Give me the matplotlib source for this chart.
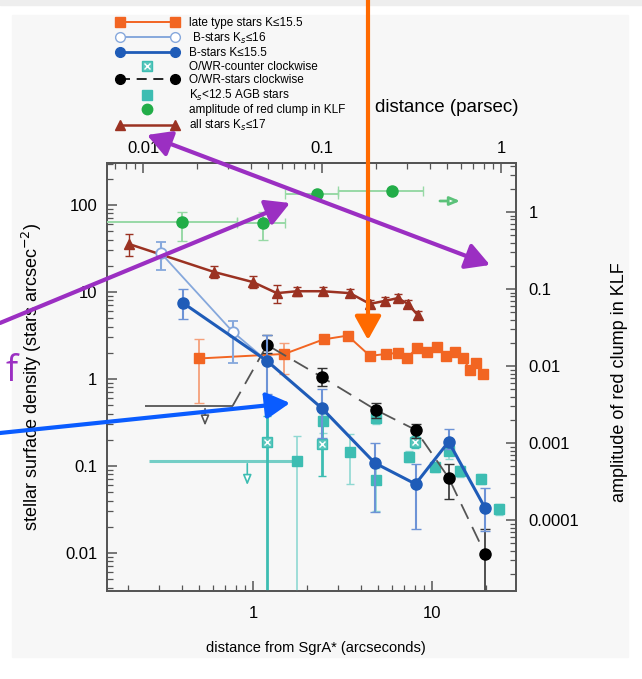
import numpy as np
import matplotlib
matplotlib.use("Agg")
import matplotlib.pyplot as plt
from matplotlib.lines import Line2D
from matplotlib.patches import Rectangle, FancyArrowPatch
from matplotlib.legend_handler import HandlerLine2D
from matplotlib.ticker import FixedLocator, FuncFormatter, LogLocator, NullFormatter

plt.rcParams['font.family'] = ['Liberation Sans', 'DejaVu Sans']

W, H = 642, 679

# late type stars K<=15.5
late_x = [0.50, 1.50, 2.48, 3.38, 4.51, 5.53, 6.46, 7.25, 8.25, 9.38, 10.7, 12.0, 13.4, 14.9, 16.3, 17.6, 19.3]
late_y = [1.72, 1.94, 2.85, 3.15, 1.84, 1.94, 1.99, 1.74, 2.27, 2.04, 2.33, 1.84, 2.04, 1.74, 1.27, 1.53, 1.14]
late_lo = [0.53, 1.14]
late_hi = [2.88, 2.59]

# all stars Ks<=17
all_x = [0.203, 0.605, 1.0, 1.36, 1.76, 2.46, 3.48, 4.5, 5.46, 6.45, 7.34, 8.35]
all_y = [35.6, 17.0, 13.0, 9.7, 10.2, 10.2, 9.7, 7.3, 7.9, 8.5, 7.3, 5.4]
all_lo = [26.0, 14.5, 11.1, 7.5, 9.0, 9.2, 8.8, 6.6, 7.1, 7.7, 6.6, 4.9]
all_hi = [46.5, 19.9, 15.3, 12.0, 11.4, 11.3, 10.7, 8.1, 8.7, 9.4, 8.1, 6.0]

# B-stars Ks<=16
bfaint_x = [0.306, 0.77, 1.2]
bfaint_y = [28.0, 3.5, 1.61]
bfaint_lo = [17.9, 1.53, 1.61]
bfaint_hi = [37.6, 4.64, 1.61]

# B-stars K<=15.5
bbright_x = [0.406, 1.2, 2.43, 4.8, 8.1, 12.4, 19.8]
bbright_y = [7.5, 1.61, 0.46, 0.108, 0.062, 0.19, 0.033]
bbright_lo = [4.9, 0.67, 0.21, 0.0297, 0.0188, 0.157, 0.018]
bbright_hi = [10.8, 3.2, 0.77, 0.184, 0.106, 0.266, 0.056]

# O/WR-stars clockwise
cw_x = [1.2, 2.43, 4.87, 8.1, 12.4, 19.8]
cw_y = [2.46, 1.05, 0.44, 0.26, 0.073, 0.0098]
cw_lo = [1.99, 0.83, 0.356, 0.21, 0.042, 0.001]
cw_hi = [3.2, 1.34, 0.53, 0.30, 0.106, 0.0188]
cw_lim_x, cw_lim_y = 0.54, 0.49
cw_lim_xlo, cw_lim_xhi, cw_lim_arrow = 0.249, 0.77, 0.27

# O/WR counter clockwise
ccw_x = [1.2, 2.43, 8.0]
ccw_y = [0.19, 0.18, 0.19]
ccw_lo = [0.001, 0.077, 0.16]
ccw_hi = [0.376, 0.36, 0.22]

# Ks<12.5 AGB stars
agb_x = [1.76, 2.46, 3.5, 4.9, 4.9, 7.4, 10.4, 12.4, 14.3, 18.8, 23.6]
agb_y = [0.114, 0.33, 0.145, 0.36, 0.069, 0.127, 0.097, 0.149, 0.087, 0.071, 0.032]
agb_lo = [0.001, 0.24, 0.062, 0.30, 0.03, 0.11, 0.085, 0.12, 0.075, 0.062, 0.027]
agb_hi = [0.22, 0.40, 0.23, 0.42, 0.095, 0.15, 0.11, 0.18, 0.10, 0.08, 0.037]
agb_xlo = 0.263
agb_lim_x, agb_lim_y, agb_lim_arrow = 0.93, 0.114, 0.056

# amplitude of red clump in KLF (right axis)
clump_x = [0.40, 1.14, 2.28, 5.98]
clump_y = [0.74, 0.72, 1.71, 1.87]
clump_xlo = [0.10, 0.81, 1.51, 2.98]
clump_xhi = [0.81, 1.51, 2.98, 8.9]
clump_lo = [0.42, 0.43, 1.71, 1.87]
clump_hi = [1.0, 1.0, 1.71, 1.87]
clump_lim_x0, clump_lim_x1, clump_lim_y = 10.7, 14.9, 1.39

pc_per_arcsec = 0.0411


def err(y, lo, hi):
    y = np.asarray(y[:len(lo)])
    return [y - np.asarray(lo), np.asarray(hi) - y]


def px(x, y):
    return (x / W, 1 - y / H)


c_late = '#f26522'
c_late_e = '#f5a07a'
c_all = '#9b3222'
c_bf = '#86a8dc'
c_bb = '#1f5cb8'
c_bb_e = '#6d93d6'
c_teal = '#3dbdb2'
c_green = '#22ad48'
c_green_e = '#98d9a6'

fig = plt.figure(figsize=(W / 100, H / 100), dpi=100)
fig.patches.append(Rectangle(px(12, 657), 616 / W, 642 / H, transform=fig.transFigure,
                             color='#f7f7f7', zorder=-10))
fig.patches.append(Rectangle(px(0, 5), 1, 5 / H, transform=fig.transFigure,
                             color='#eeeeee', zorder=-10))

ax = fig.add_axes([107 / W, 1 - 591 / H, 409 / W, 428 / H])
ax.set_facecolor('none')
ax.set_xscale('log')
ax.set_yscale('log')
ax.set_xlim(0.153, 29.5)
ax.set_ylim(0.00365, 304)

ax2 = ax.twinx()
ax2.set_yscale('log')
ax2.set_ylim(1.2e-5, 4.33)

# teal AGB / counter-clockwise
ax.errorbar(agb_x[0], agb_y[0], xerr=[[agb_x[0] - agb_xlo], [0]], fmt='none', ecolor=c_teal,
            elinewidth=2.2, capsize=0, alpha=0.7, zorder=2)
ax.errorbar(agb_x, agb_y, yerr=err(agb_y, agb_lo, agb_hi), fmt='s', color=c_teal, ms=7,
            ecolor='#8fd8d2', capsize=3, elinewidth=1.2, zorder=3)
ax.annotate('', xy=(agb_lim_x, agb_lim_arrow), xytext=(agb_lim_x, agb_lim_y),
            arrowprops=dict(arrowstyle='-|>,head_length=0.6,head_width=0.25', color=c_teal,
                            fc='white', lw=1.2), zorder=3)
ax.errorbar(ccw_x, ccw_y, yerr=err(ccw_y, ccw_lo, ccw_hi), fmt='s', color=c_teal, ms=7.5,
            mfc='#5cc7bd', ecolor=c_teal, capsize=3, elinewidth=2, zorder=3)
ax.plot(ccw_x, ccw_y, 'x', color='white', ms=4, mew=1, zorder=4)

# late type stars
ax.errorbar(late_x[:2], late_y[:2], yerr=err(late_y, late_lo, late_hi), fmt='none',
            ecolor=c_late_e, capsize=3.5, elinewidth=1.3, zorder=3)
ax.plot(late_x, late_y, '-s', color=c_late, ms=7.5, lw=1.4, zorder=4)

# all stars
ax.errorbar(all_x, all_y, yerr=err(all_y, all_lo, all_hi), fmt='-^', color=c_all, ms=7,
            lw=1.8, ecolor=c_all, capsize=3, elinewidth=1, zorder=4)

# B-stars faint
ax.errorbar(bfaint_x, bfaint_y, yerr=err(bfaint_y, bfaint_lo, bfaint_hi), fmt='-o', color=c_bf,
            mfc='white', mec=c_bf, mew=1.3, ms=7.5, lw=1.3, ecolor=c_bf, capsize=3.5,
            elinewidth=1.5, zorder=4)

# O/WR clockwise
ax.errorbar(cw_lim_x, cw_lim_y, xerr=[[cw_lim_x - cw_lim_xlo], [cw_lim_xhi - cw_lim_x]],
            fmt='none', ecolor='#555555', elinewidth=1.3, capsize=0, zorder=4)
ax.annotate('', xy=(cw_lim_x, cw_lim_arrow), xytext=(cw_lim_x, cw_lim_y),
            arrowprops=dict(arrowstyle='-|>,head_length=0.6,head_width=0.25', color='#555555',
                            fc='white', lw=1.2), zorder=4)
ax.plot([cw_lim_xhi] + cw_x, [cw_lim_y] + cw_y, color='#555555', lw=1.3, dashes=(9, 5), zorder=4)
ax.errorbar(cw_x, cw_y, yerr=err(cw_y, cw_lo, cw_hi), fmt='o', color='black', ms=8,
            ecolor='#333333', capsize=3.5, elinewidth=1.2, zorder=5)

# B-stars bright
ax.errorbar(bbright_x, bbright_y, yerr=err(bbright_y, bbright_lo, bbright_hi), fmt='-o',
            color=c_bb, ms=8, lw=2.2, ecolor=c_bb_e, capsize=3.5, elinewidth=1.5, zorder=6)

# red clump amplitude (right axis)
ax2.errorbar(clump_x, clump_y, xerr=err(clump_x, clump_xlo, clump_xhi),
             yerr=err(clump_y, clump_lo, clump_hi), fmt='o', color=c_green, ms=8,
             ecolor=c_green_e, capsize=3.5, elinewidth=1.4, zorder=3)
ax2.annotate('', xy=(clump_lim_x1, clump_lim_y), xytext=(clump_lim_x0, clump_lim_y),
             arrowprops=dict(arrowstyle='-|>,head_length=0.6,head_width=0.25', color='#5cc27a',
                             fc='white', lw=2), zorder=3)

# axes styling
frame_c = '#555555'
for a in (ax, ax2):
    for s in a.spines.values():
        s.set_color(frame_c)
        s.set_linewidth(1.3)
fmt = FuncFormatter(lambda v, p: '%g' % v)
ax.xaxis.set_major_locator(FixedLocator([1, 10]))
ax.xaxis.set_major_formatter(fmt)
ax.xaxis.set_minor_locator(LogLocator(subs=np.arange(2, 10)))
ax.xaxis.set_minor_formatter(NullFormatter())
ax.yaxis.set_major_locator(FixedLocator([0.01, 0.1, 1, 10, 100]))
ax.yaxis.set_major_formatter(fmt)
ax.yaxis.set_minor_locator(LogLocator(subs=np.arange(2, 10), numticks=20))
ax.yaxis.set_minor_formatter(NullFormatter())
ax2.yaxis.set_major_locator(FixedLocator([0.0001, 0.001, 0.01, 0.1, 1]))
ax2.yaxis.set_major_formatter(fmt)
ax2.yaxis.set_minor_locator(LogLocator(subs=np.arange(2, 10), numticks=20))
ax2.yaxis.set_minor_formatter(NullFormatter())

ax.tick_params(axis='x', which='both', direction='in', top=False, color=frame_c, labelsize=12, pad=11)
ax.tick_params(axis='y', which='both', direction='in', right=False, color=frame_c, labelsize=12, pad=7)
ax2.tick_params(axis='y', which='both', direction='in', color=frame_c, labelsize=12, pad=9)
for a in (ax, ax2):
    a.tick_params(which='major', length=7, width=1.1)
    a.tick_params(which='minor', length=4, width=0.9)

top = ax.secondary_xaxis('top', functions=(lambda x: x * pc_per_arcsec, lambda x: x / pc_per_arcsec))
top.xaxis.set_major_locator(FixedLocator([0.01, 0.1, 1]))
top.xaxis.set_major_formatter(fmt)
top.xaxis.set_minor_locator(LogLocator(subs=np.arange(2, 10)))
top.xaxis.set_minor_formatter(NullFormatter())
top.tick_params(which='both', direction='in', color=frame_c, labelsize=12, pad=5)
top.tick_params(which='major', length=7, width=1.1)
top.tick_params(which='minor', length=4, width=0.9)
top.spines['top'].set_color(frame_c)
top.spines['top'].set_linewidth(1.3)

fig.text(*px(316, 648), 'distance from SgrA* (arcseconds)', ha='center', va='center', fontsize=10.5)
fig.text(*px(447, 108), 'distance (parsec)', ha='center', va='center', fontsize=13.5)
fig.text(*px(32, 377), 'stellar surface density (stars arcsec$^{-2}$)', ha='center', va='center',
         rotation=90, fontsize=13)
fig.text(*px(620, 382), 'amplitude of red clump in KLF', ha='center', va='center',
         rotation=90, fontsize=13)

# legend
one = HandlerLine2D(numpoints=1)
ccw_sq = Line2D([], [], color=c_teal, marker='s', ls='none', ms=7, mfc='#5cc7bd')
ccw_x_mark = Line2D([], [], color='white', marker='x', ls='none', ms=4, mew=1)
agb_sq = Line2D([], [], color=c_teal, marker='s', ls='none', ms=7)
clump_dot = Line2D([], [], color=c_green, marker='o', ls='none', ms=7.5)
handles = [
    Line2D([], [], color=c_late, marker='s', ms=7, lw=1.4),
    Line2D([], [], color=c_bf, marker='o', mfc='white', ms=7, lw=1.4),
    Line2D([], [], color=c_bb, marker='o', ms=7, lw=2),
    (ccw_sq, ccw_x_mark),
    Line2D([], [], color='black', marker='o', ms=7, lw=1.2, dashes=(6, 4)),
    agb_sq,
    clump_dot,
    Line2D([], [], color=c_all, marker='^', ms=7, lw=1.8),
]
labels = ['late type stars K≤15.5', ' B-stars K$_s$≤16', 'B-stars K≤15.5', 'O/WR-counter clockwise',
          'O/WR-stars clockwise', 'K$_s$<12.5 AGB stars', 'amplitude of red clump in KLF',
          'all stars K$_s$≤17']
leg = fig.legend(handles, labels, loc='upper left', bbox_to_anchor=px(116, 17), frameon=False,
                 fontsize=8.5, numpoints=2, handlelength=5.3, handletextpad=0.9, labelspacing=0.13,
                 borderpad=0, borderaxespad=0,
                 handler_map={ccw_sq: one, ccw_x_mark: one, agb_sq: one, clump_dot: one})

# annotation arrows drawn on top of the figure
def arrow(p0, p1, color, style='-|>', lw=3, ms=16):
    fig.add_artist(FancyArrowPatch(px(*p0), px(*p1), transform=fig.transFigure,
                                   arrowstyle=style + ',head_length=0.9,head_width=0.5',
                                   color=color, lw=lw, mutation_scale=ms, zorder=20,
                                   shrinkA=0, shrinkB=0))

arrow((368, 0), (368, 340), '#ff6a00')
arrow((147, 135), (490, 265), '#9b2fc2', style='<|-|>')
arrow((0, 323), (290, 203), '#9b2fc2')
arrow((0, 433), (290, 403), '#0a5cff')
fig.text(*px(12, 372), 'f', color='#9b2fc2', fontsize=26, ha='center', va='center',
         family=['Open Sans', 'DejaVu Sans'])

fig.savefig('out.png', dpi=100)
